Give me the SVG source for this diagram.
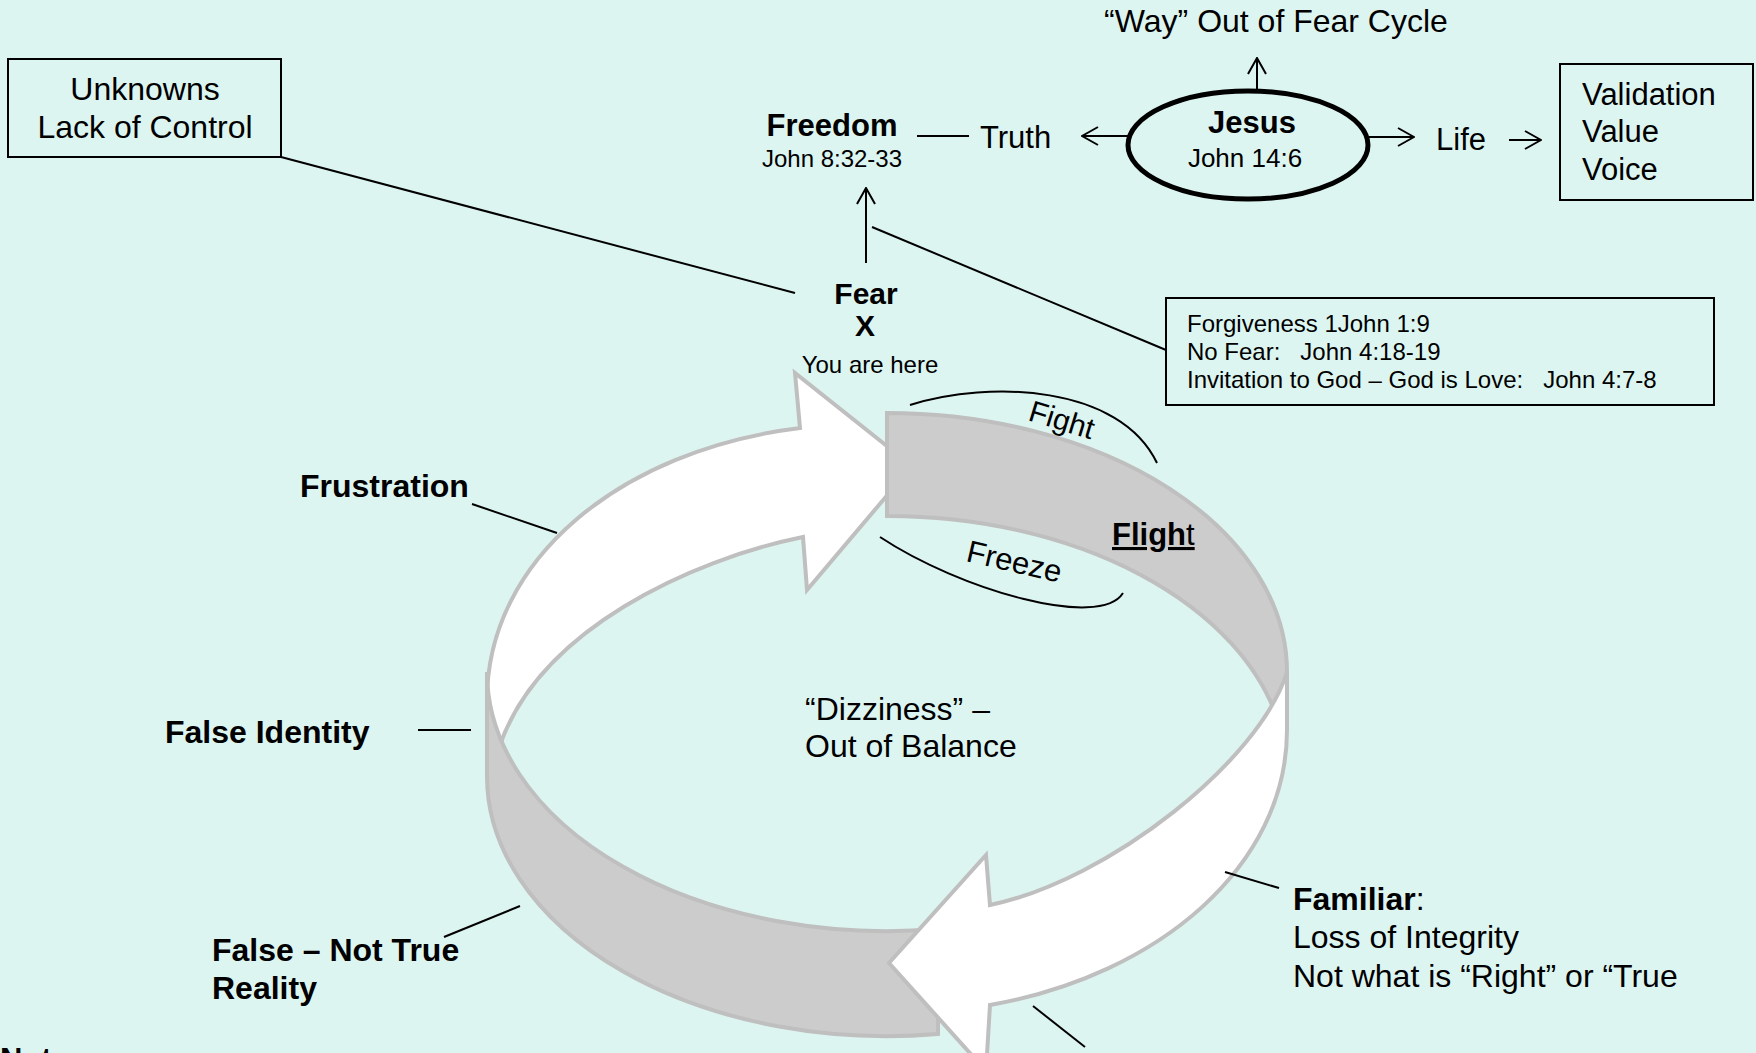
<svg xmlns="http://www.w3.org/2000/svg" width="1756" height="1053" viewBox="0 0 1756 1053">
<style>
.t{font-family:"Liberation Sans",Arial,sans-serif;fill:#000}
.b{font-weight:bold}
.ln{stroke:#000;stroke-width:2;fill:none}
.box{stroke:#000;stroke-width:2;fill:none}
.bw{fill:#fff;stroke:#bfbfbf;stroke-width:4;stroke-linejoin:miter}
.bg{fill:#cccccc;stroke:#bfbfbf;stroke-width:4;stroke-linejoin:miter}
</style>
<defs>
<marker id="ah" viewBox="0 0 18 20" refX="17" refY="10" markerWidth="18" markerHeight="20" markerUnits="userSpaceOnUse" orient="auto">
<path d="M1,1 L17,10 L1,19" fill="none" stroke="#000" stroke-width="2"/>
</marker>
</defs>
<rect x="0" y="0" width="1756" height="1053" fill="#ddf5f1"/>

<g id="cycle">
<path class="bw" d="M487,760 L487,700 C487,560 620,450 800,428 L795,373 L912,466 L807,590 L803,537 C690,560 540,630 500,745 Z"/>
<path class="bg" d="M887,413 A400,259 0 0 1 1287,672 L1287,726 L1279,723.5 A400,260 0 0 0 887,516 Z"/>
<path class="bg" d="M487,672 L487,776 A400,260 0 0 0 938,1034 L938,929 A400,259 0 0 1 487,672 Z"/>
<path class="bw" d="M1287,672 L1287,730 C1287,865 1160,975 990,1005 L986,1071 L889,963 L986,855 L990,905 C1110,880 1260,760 1287,672 Z"/>
</g>

<g id="connectors">
<line class="ln" x1="281" y1="157" x2="795" y2="293"/>
<line class="ln" x1="866" y1="263" x2="866" y2="188" marker-end="url(#ah)"/>
<line class="ln" x1="917" y1="136" x2="969" y2="136"/>
<line class="ln" x1="1128" y1="136" x2="1082" y2="136" marker-end="url(#ah)"/>
<line class="ln" x1="1257" y1="89" x2="1257" y2="58" marker-end="url(#ah)"/>
<line class="ln" x1="1369" y1="137" x2="1414" y2="137" marker-end="url(#ah)"/>
<line class="ln" x1="1509" y1="140" x2="1541" y2="140" marker-end="url(#ah)"/>
<line class="ln" x1="872" y1="227" x2="1166" y2="350"/>
<line class="ln" x1="472" y1="504" x2="557" y2="533"/>
<line class="ln" x1="418" y1="730" x2="471" y2="730"/>
<line class="ln" x1="444" y1="937" x2="520" y2="906"/>
<line class="ln" x1="1225" y1="872" x2="1279" y2="888"/>
<line class="ln" x1="1033" y1="1006" x2="1085" y2="1047"/>
<path class="ln" d="M910,405 C990,380 1120,385 1157,463"/>
<path class="ln" d="M880,537 C960,590 1100,630 1123,593"/>
</g>

<g id="unknowns">
<rect class="box" x="8" y="59" width="273" height="98"/>
<text class="t" x="145" y="100" font-size="32" text-anchor="middle">Unknowns</text>
<text class="t" x="145" y="138" font-size="32" text-anchor="middle">Lack of Control</text>
</g>

<g id="way">
<text class="t" x="1276" y="32" font-size="32" text-anchor="middle">“Way” Out of Fear Cycle</text>
</g>

<g id="freedom">
<text class="t b" x="832" y="136" font-size="31" text-anchor="middle">Freedom</text>
<text class="t" x="832" y="167" font-size="24" text-anchor="middle">John 8:32-33</text>
</g>

<g id="truth">
<text class="t" x="980" y="148" font-size="31">Truth</text>
</g>

<g id="jesus">
<ellipse cx="1248" cy="145" rx="120" ry="54" fill="none" stroke="#000" stroke-width="5"/>
<text class="t b" x="1252" y="133" font-size="31" text-anchor="middle">Jesus</text>
<text class="t" x="1245" y="167" font-size="26" text-anchor="middle">John 14:6</text>
</g>

<g id="life">
<text class="t" x="1436" y="150" font-size="31">Life</text>
</g>

<g id="validation">
<rect class="box" x="1560" y="64" width="193" height="136"/>
<text class="t" x="1582" y="105" font-size="31">Validation</text>
<text class="t" x="1582" y="142" font-size="31">Value</text>
<text class="t" x="1582" y="180" font-size="31">Voice</text>
</g>

<g id="forgiveness">
<rect class="box" x="1166" y="298" width="548" height="107"/>
<text class="t" x="1187" y="332" font-size="24" xml:space="preserve">Forgiveness 1John 1:9</text>
<text class="t" x="1187" y="360" font-size="24" xml:space="preserve">No Fear:   John 4:18-19</text>
<text class="t" x="1187" y="388" font-size="24" xml:space="preserve">Invitation to God – God is Love:   John 4:7-8</text>
</g>

<g id="fear">
<text class="t b" x="866" y="304" font-size="30" text-anchor="middle">Fear</text>
<text class="t b" x="865" y="336" font-size="30" text-anchor="middle">X</text>
<text class="t" x="870" y="373" font-size="24" text-anchor="middle">You are here</text>
</g>

<g id="fight">
<text class="t" x="1027" y="420" font-size="30" transform="rotate(17 1027 420)">Fight</text>
</g>

<g id="freeze">
<text class="t" x="965" y="561" font-size="31" transform="rotate(13 965 561)">Freeze</text>
</g>

<g id="flight">
<text class="t b" x="1112" y="545" font-size="31" text-decoration="underline">Fligh<tspan font-weight="normal">t</tspan></text>
</g>

<g id="frustration">
<text class="t b" x="300" y="497" font-size="32">Frustration</text>
</g>

<g id="false-identity">
<text class="t b" x="165" y="743" font-size="32">False Identity</text>
</g>

<g id="false-reality">
<text class="t b" x="212" y="961" font-size="32">False – Not True</text>
<text class="t b" x="212" y="999" font-size="32">Reality</text>
</g>

<g id="familiar">
<text class="t" x="1293" y="910" font-size="32"><tspan font-weight="bold">Familiar</tspan>:</text>
<text class="t" x="1293" y="948" font-size="32">Loss of Integrity</text>
<text class="t" x="1293" y="987" font-size="32">Not what is “Right” or “True</text>
</g>

<g id="dizziness">
<text class="t" x="805" y="720" font-size="32">“Dizziness” –</text>
<text class="t" x="805" y="757" font-size="32">Out of Balance</text>
</g>

<g id="note">
<text class="t b" x="0" y="1070" font-size="31">Not</text>
</g>
</svg>
